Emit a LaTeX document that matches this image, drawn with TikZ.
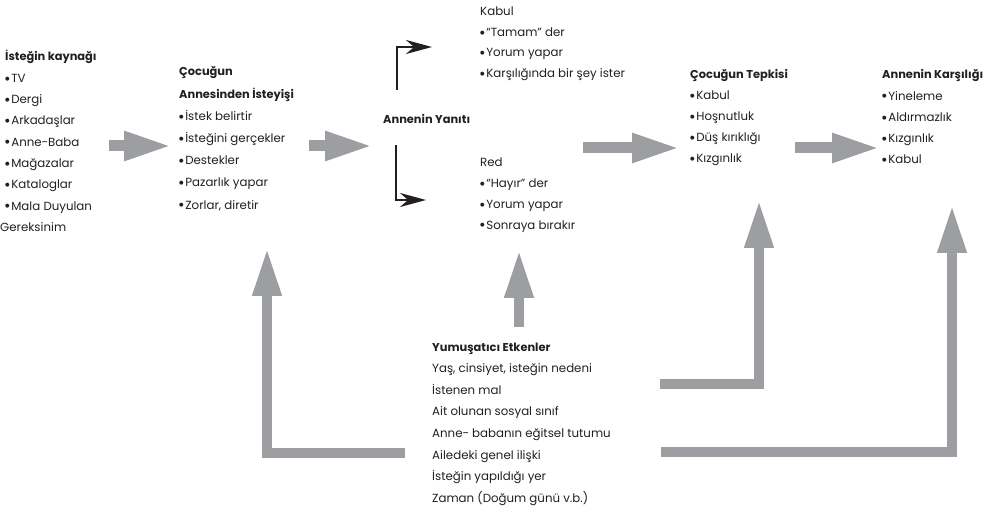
\documentclass[tikz,border=0pt]{standalone}
\usepackage{fontspec}
\setmainfont{Poppins}
\newfontfamily\dotfont{DejaVu Sans}
\usetikzlibrary{arrows.meta}

\definecolor{ink}{RGB}{35,31,32}
\definecolor{flowgray}{RGB}{157,158,162}

% round list bullet followed by a thin gap
\newcommand{\bl}{\raisebox{0.35ex}{\dotfont\fontsize{5.2}{5.2}\selectfont ●}\hspace{1.6pt}}
% a left-aligned stack of lines whose reference point is the first baseline
\newcommand{\stack}[2]{{\fontsize{11.8}{#1}\selectfont
  \begin{tabular}[t]{@{}l@{}}#2\end{tabular}}}
\newcommand{\hd}[1]{{\fontsize{11.4}{11.4}\selectfont\bfseries #1}}

\tikzset{
  block/.style={anchor=base west, inner sep=0pt, text=ink},
  flow/.style={draw=flowgray, line width=11pt, line join=miter,
    -{Triangle[length=48pt,width=27pt]}},
  riser/.style={draw=flowgray, line width=10pt, line join=miter,
    -{Triangle[length=48pt,width=27pt]}},
  branch/.style={draw=ink, line width=2pt, line join=miter,
    -{Stealth[length=26pt,width=14pt,inset=8pt]}}
}

\begin{document}
\begin{tikzpicture}[x=1pt,y=-1pt]
\useasboundingbox (0,0) rectangle (987,510);

% text blocks
\node[block] (kaynak) at (5,61) {\stack{21.3}{\hd{İsteğin kaynağı}\\
  \bl TV\\ \bl Dergi\\ \bl Arkadaşlar\\ \bl Anne-Baba\\ \bl Mağazalar\\
  \bl Kataloglar\\ \bl Mala Duyulan\\ \hspace*{-5pt}Gereksinim}};

\node[block] (istek) at (179,76) {\stack{22.2}{\hd{Çocuğun}\\
  \hd{Annesinden İsteyişi}\\
  \bl İstek belirtir\\ \bl İsteğini gerçekler\\ \bl Destekler\\
  \bl Pazarlık yapar\\ \bl Zorlar, diretir}};

\node[block] (yanit) at (383,124) {\hd{Annenin Yanıtı}};

\node[block] (kabul) at (480,16) {\stack{20.5}{Kabul\\
  \bl “Tamam” der\\ \bl Yorum yapar\\ \bl Karşılığında bir şey ister}};

\node[block] (red) at (480,167) {\stack{20.7}{Red\\
  \bl “Hayır” der\\ \bl Yorum yapar\\ \bl Sonraya bırakır}};

\node[block] (tepki) at (690,79) {\stack{20.9}{\hd{Çocuğun Tepkisi}\\
  \bl Kabul\\ \bl Hoşnutluk\\ \bl Düş kırıklığı\\ \bl Kızgınlık}};

\node[block] (karsilik) at (882,79) {\stack{21.2}{\hd{Annenin Karşılığı}\\
  \bl Yineleme\\ \bl Aldırmazlık\\ \bl Kızgınlık\\ \bl Kabul}};

\node[block] (etken) at (432,351) {\stack{21.6}{\hd{Yumuşatıcı Etkenler}\\
  Yaş, cinsiyet, isteğin nedeni\\ İstenen mal\\ Ait olunan sosyal sınıf\\
  Anne- babanın eğitsel tutumu\\ Ailedeki genel ilişki\\
  İsteğin yapıldığı yer\\ Zaman (Doğum günü v.b.)}};

% arrow end points
\coordinate (f1s) at (109,146); \coordinate (f1e) at (172,146);
\coordinate (f2s) at (309,146); \coordinate (f2e) at (373,146);
\coordinate (f3s) at (583,148); \coordinate (f3e) at (680,148);
\coordinate (f4s) at (795,148); \coordinate (f4e) at (880,148);

\coordinate (upS) at (397,90);  \coordinate (upE) at (432,47);
\coordinate (dnS) at (396,145); \coordinate (dnE) at (426,200);

\coordinate (rAs) at (660,384); \coordinate (rAe) at (759,200);
\coordinate (rBs) at (661,452); \coordinate (rBe) at (952,205);
\coordinate (rCs) at (405,453); \coordinate (rCe) at (267,248);
\coordinate (rDs) at (519,327); \coordinate (rDe) at (519,250);

% main flow
\draw[flow] (f1s) -- (f1e);
\draw[flow] (f2s) -- (f2e);
\draw[flow] (f3s) -- (f3e);
\draw[flow] (f4s) -- (f4e);

% accept / refuse branches
\draw[branch] (upS) |- (upE);
\draw[branch] (dnS) |- (dnE);

% moderating factors feeding back
\draw[riser] (rAs) -| (rAe);
\draw[riser] (rBs) -| (rBe);
\draw[riser] (rCs) -| (rCe);
\draw[riser] (rDs) -- (rDe);
\end{tikzpicture}
\end{document}
